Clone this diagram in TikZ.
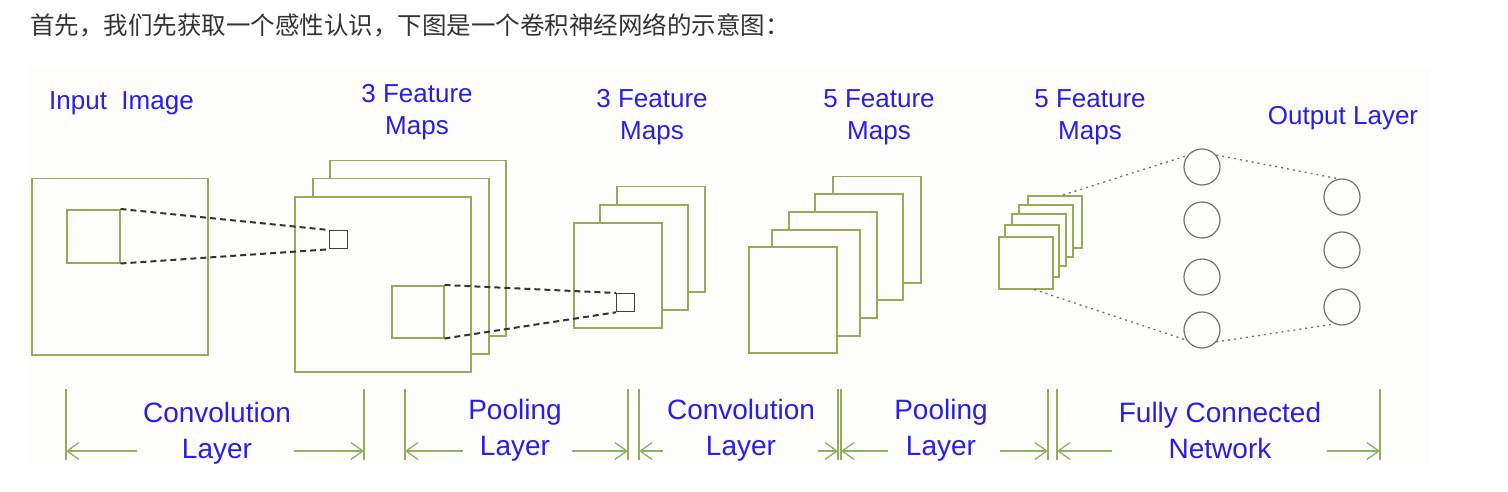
\documentclass[tikz,border=0pt]{standalone}
\usepackage{fontspec}
\setmainfont{Liberation Sans}
\newfontfamily\cjk{Noto Sans CJK SC}
\usetikzlibrary{arrows.meta,calc}

\definecolor{mapgreen}{RGB}{150,170,90}
\definecolor{dimgreen}{RGB}{140,178,100}
\definecolor{lblblue}{RGB}{40,30,230}
\definecolor{bgtint}{RGB}{253,253,251}
\definecolor{txtgray}{RGB}{51,51,51}

\begin{document}
\begin{tikzpicture}[x=1pt,y=-1pt,
  every node/.style={inner sep=0pt},
  box/.style 2 args={rectangle,draw=mapgreen,line width=1.5pt,fill=bgtint,anchor=north west,minimum width=#1,minimum height=#2},
  px/.style={rectangle,draw=black!75,line width=1.3pt,anchor=north west,minimum size=18pt},
  neuron/.style={circle,draw=black!55,line width=1.2pt,minimum size=36pt},
  rfline/.style={draw=black!80,line width=2pt,dash pattern=on 6pt off 4pt},
  fcline/.style={draw=black!55,line width=1.3pt,dash pattern=on 2pt off 4pt},
  lbl/.style={text=lblblue,font=\fontsize{26}{32}\selectfont,align=center},
  lyr/.style={text=lblblue,font=\fontsize{28}{36}\selectfont,align=center},
  bar/.style={draw=mapgreen,line width=1.3pt},
  dim/.style={draw=dimgreen,line width=1.3pt,-{Straight Barb[length=12pt,width=17pt]}}
]
\useasboundingbox (0,0) rectangle (1508,492);
\fill[bgtint] (28,68) rectangle (1430,465);

\node[anchor=west,font=\cjk\fontsize{24.5}{29}\selectfont,text=txtgray] (title) at (30,25)
  {首先，我们先获取一个感性认识，下图是一个卷积神经网络的示意图：};

% input image
\node[box={176pt}{176pt}] (inimg) at (31,178) {};
\node[box={53pt}{53pt}] (rf1) at (66,209) {};
% convolution: 3 maps
\node[box={176pt}{175pt}] (c1c) at (329,160) {};
\node[box={176pt}{175pt}] (c1b) at (312,178) {};
\node[box={176pt}{175pt}] (c1a) at (294,196) {};
\node[px] (c1px) at (329,230) {};
\node[box={52pt}{52pt},fill=none] (c1rf) at (391,285) {};
% pooling: 3 maps
\node[box={88pt}{105pt}] (p1c) at (616,186) {};
\node[box={88pt}{105pt}] (p1b) at (599,204) {};
\node[box={88pt}{105pt}] (p1a) at (573,222) {};
\node[px] (p1px) at (616,293) {};
% convolution: 5 maps
\foreach \n/\x/\y in {e/832/176,d/814/193,c/788/211,b/771/229,a/748/246}
  \node[box={88pt}{106pt}] (c2\n) at (\x,\y) {};
% pooling: 5 maps
\foreach \n/\x/\y in {e/1027/195,d/1018/204,c/1011/213,b/1004/224,a/998/236}
  \node[box={54pt}{52pt}] (p2\n) at (\x,\y) {};
% fully connected
\foreach \i/\y in {1/167,2/220,3/277,4/330}
  \node[neuron] (h\i) at (1202,\y) {};
\foreach \i/\y in {1/197,2/250,3/307}
  \node[neuron] (o\i) at (1342,\y) {};

\draw[rfline] (rf1.north east) -- (c1px.north west);
\draw[rfline] (rf1.south east) -- (c1px.south west);
\draw[rfline] (c1rf.north east) -- (p1px.north west);
\draw[rfline] (c1rf.south east) -- (p1px.south west);
\draw[fcline] ($(p2e.north west)!0.65!(p2e.north east)$) -- (h1.142);
\draw[fcline] ($(p2a.south west)!0.65!(p2a.south east)$) -- (h4.213);
\draw[fcline] (h1.40) -- (o1.101);
\draw[fcline] (h4.320) -- (o3.246);

% top labels
\node[lbl,anchor=west] (inlbl) at (49,103) {Input\ \ Image};
\node[lbl] (c1lbl) at (417,112) {3 Feature\\Maps};
\node[lbl] (p1lbl) at (652,117) {3 Feature\\Maps};
\node[lbl] (c2lbl) at (879,117) {5 Feature\\Maps};
\node[lbl] (p2lbl) at (1090,117) {5 Feature\\Maps};
\node[lbl] (outlbl) at (1343,118) {Output Layer};

% layer spans
\foreach \x in {66,364,405,628,639,838,841,1048,1057,1380}
  \draw[bar] (\x,389) -- (\x,460);
\foreach \s/\t in {137/66,294/364,463/405,572/628,663/639,818/838,888/841,1000/1048,1112/1057,1327/1380}
  \draw[dim] (\s,451) -- (\t,451);
\node[lyr] (conv1) at (217,433) {Convolution\\Layer};
\node[lyr] (pool1) at (515,430) {Pooling\\Layer};
\node[lyr] (conv2) at (741,430) {Convolution\\Layer};
\node[lyr] (pool2) at (941,430) {Pooling\\Layer};
\node[lyr] (fcn) at (1220,430) {Fully Connected\\Network};
\end{tikzpicture}
\end{document}
